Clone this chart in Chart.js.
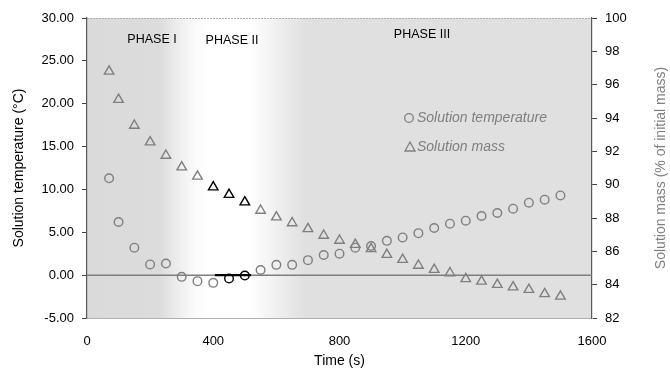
<!DOCTYPE html>
<html>
<head>
<meta charset="utf-8">
<script src="https://cdn.jsdelivr.net/npm/chart.js@4.4.1/dist/chart.umd.min.js"></script>
<style>
  body { margin: 0; background: #fff; }
  canvas { display: block; }
</style>
</head>
<body>
<canvas id="chart" width="670" height="373"></canvas>
<script>
// time (s) of each sample
const times = [70, 100, 150, 200, 250, 300, 350, 400, 450, 500, 550, 600, 650, 700, 750,
  800, 850, 900, 950, 1000, 1050, 1100, 1150, 1200, 1250, 1300, 1350, 1400, 1450, 1500];
// solution temperature (°C)
const temperature = [11.3, 6.2, 3.2, 1.25, 1.35, -0.2, -0.7, -0.9, -0.4, -0.05, 0.6, 1.2, 1.2, 1.75, 2.35,
  2.5, 3.2, 3.4, 4.0, 4.4, 4.9, 5.5, 6.0, 6.35, 6.9, 7.25, 7.75, 8.45, 8.8, 9.3];
// solution mass (% of initial mass)
const mass = [96.8, 95.1, 93.55, 92.55, 91.75, 91.05, 90.5, 89.85, 89.4, 88.95, 88.45, 88.05, 87.7, 87.35, 86.95,
  86.65, 86.4, 86.15, 85.8, 85.5, 85.15, 84.9, 84.7, 84.35, 84.2, 84.0, 83.85, 83.7, 83.45, 83.3];
// samples highlighted in black (phase II)
const blackTemp = [450, 500];
const blackMass = [400, 450, 500];
const phase2Segment = [405, 520];
const zeroLine = [0, 1600];

const xTicks = [0, 400, 800, 1200, 1600];
const tempTicks = [-5, 0, 5, 10, 15, 20, 25, 30];
const massTicks = [82, 84, 86, 88, 90, 92, 94, 96, 98, 100];

const phaseLabels = ['PHASE I', 'PHASE II', 'PHASE III'];
const legendLabels = ['Solution temperature', 'Solution mass'];

const FONT = "'Liberation Sans', Arial, sans-serif";
const GREY = '#7f7f7f';

const backgroundPlugin = {
  id: 'phaseBackground',
  beforeDraw(chart) {
    const { ctx, chartArea: a, scales: { x } } = chart;
    ctx.save();
    ctx.fillStyle = '#fff';
    ctx.fillRect(0, 0, chart.width, chart.height);
    const g = ctx.createLinearGradient(a.left, 0, a.right, 0);
    const stop = (t, c) => g.addColorStop((x.getPixelForValue(t) - a.left) / (a.right - a.left), c);
    stop(0, '#dadada');
    stop(230, '#dcdcdc');
    stop(290, '#eeeeee');
    stop(345, '#fbfbfb');
    stop(390, '#ffffff');
    stop(515, '#ffffff');
    stop(600, '#f0f0f0');
    stop(690, '#e0e0e0');
    stop(1600, '#e0e0e0');
    ctx.fillStyle = g;
    ctx.fillRect(a.left, a.top, a.right - a.left, a.bottom - a.top);
    // dotted top border
    ctx.strokeStyle = '#b0b0b0';
    ctx.lineWidth = 1;
    ctx.setLineDash([2, 1]);
    ctx.beginPath();
    ctx.moveTo(a.left, a.top + 0.5);
    ctx.lineTo(a.right, a.top + 0.5);
    ctx.stroke();
    ctx.restore();
  },
  afterDraw(chart) {
    const { ctx, chartArea: a } = chart;
    ctx.save();
    ctx.fillStyle = '#000';
    ctx.font = '12.5px ' + FONT;
    ctx.textAlign = 'center';
    ctx.textBaseline = 'middle';
    ctx.fillText(phaseLabels[0], 152, 40);
    ctx.fillText(phaseLabels[1], 232, 41);
    ctx.fillText(phaseLabels[2], 422, 35);

    // legend
    ctx.strokeStyle = GREY;
    ctx.lineWidth = 1.3;
    ctx.beginPath();
    ctx.arc(409, 118, 4.3, 0, Math.PI * 2);
    ctx.stroke();
    ctx.beginPath();
    ctx.moveTo(410, 142);
    ctx.lineTo(415, 151);
    ctx.lineTo(405, 151);
    ctx.closePath();
    ctx.stroke();
    ctx.fillStyle = GREY;
    ctx.font = 'italic 14px ' + FONT;
    ctx.textAlign = 'left';
    ctx.fillText(legendLabels[0], 417, 118);
    ctx.fillText(legendLabels[1], 417, 147);

    // right axis title, reading upward
    ctx.translate(661, (a.top + a.bottom) / 2);
    ctx.rotate(-Math.PI / 2);
    ctx.textAlign = 'center';
    ctx.font = '14px ' + FONT;
    ctx.fillStyle = GREY;
    ctx.fillText('Solution mass (% of initial mass)', 0, 0);
    ctx.restore();
  }
};

const pointsOf = (ys) => times.map((t, i) => ({ x: t, y: ys[i] }));

new Chart(document.getElementById('chart').getContext('2d'), {
  data: {
    datasets: [
      {
        type: 'scatter',
        label: legendLabels[0],
        data: pointsOf(temperature),
        yAxisID: 'y',
        pointStyle: 'circle',
        pointRadius: 4.3,
        pointBorderWidth: 1.4,
        pointBackgroundColor: 'rgba(0,0,0,0)',
        pointBorderColor: times.map(t => blackTemp.includes(t) ? '#000' : GREY),
        order: 0
      },
      {
        type: 'scatter',
        label: legendLabels[1],
        data: pointsOf(mass),
        yAxisID: 'y2',
        pointStyle: 'triangle',
        pointRadius: 5.5,
        pointBorderWidth: 1.4,
        pointBackgroundColor: 'rgba(0,0,0,0)',
        pointBorderColor: times.map(t => blackMass.includes(t) ? '#000' : GREY),
        order: 0
      },
      {
        type: 'line',
        data: zeroLine.map(t => ({ x: t, y: 0 })),
        yAxisID: 'y',
        borderColor: GREY,
        borderWidth: 1.5,
        pointRadius: 0,
        order: 10
      },
      {
        type: 'line',
        data: phase2Segment.map(t => ({ x: t, y: 0 })),
        yAxisID: 'y',
        borderColor: '#000',
        borderWidth: 2.2,
        pointRadius: 0,
        order: 5
      }
    ]
  },
  options: {
    responsive: false,
    animation: false,
    devicePixelRatio: 1,
    layout: { padding: { top: 18, left: 0, right: 0, bottom: 0 } },
    plugins: {
      legend: { display: false },
      tooltip: { enabled: false },
      title: { display: false }
    },
    scales: {
      x: {
        type: 'linear',
        min: 0,
        max: 1600,
        afterBuildTicks: s => { s.ticks = xTicks.map(v => ({ value: v })); },
        afterFit: s => { s.height = 55; },
        grid: { display: false },
        border: { color: '#b0b0b0', dash: [2, 1] },
        ticks: { color: '#000', font: { family: FONT, size: 13 }, padding: 8, callback: v => String(v) },
        title: { display: true, text: 'Time (s)', color: '#000', font: { family: FONT, size: 14 }, padding: { top: 0, bottom: 3 } }
      },
      y: {
        position: 'left',
        min: -5,
        max: 30,
        afterBuildTicks: s => { s.ticks = tempTicks.map(v => ({ value: v })); },
        afterFit: s => { s.width = 87; },
        grid: { display: true, drawOnChartArea: false, tickLength: 5, color: '#404040' },
        border: { color: '#595959', width: 1.2 },
        ticks: { color: '#000', font: { family: FONT, size: 13 }, padding: 8, callback: v => v.toFixed(2) },
        title: { display: true, text: 'Solution temperature (°C)', color: '#000', font: { family: FONT, size: 14 }, padding: { top: 11, bottom: 0 } }
      },
      y2: {
        position: 'right',
        min: 82,
        max: 100,
        afterBuildTicks: s => { s.ticks = massTicks.map(v => ({ value: v })); },
        afterFit: s => { s.width = 78; },
        grid: { display: true, drawOnChartArea: false, tickLength: 5, color: '#404040' },
        border: { color: '#595959', width: 1.2 },
        ticks: { color: '#000', font: { family: FONT, size: 13 }, padding: 8 }
      }
    }
  },
  plugins: [backgroundPlugin]
});
</script>
</body>
</html>
